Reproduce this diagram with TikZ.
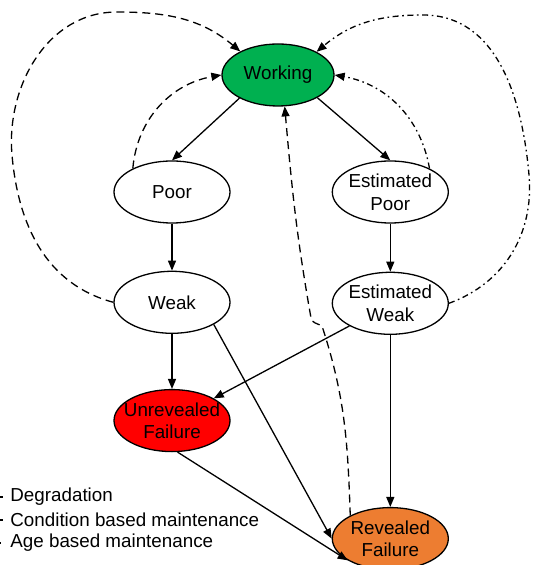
\documentclass[tikz,border=0pt]{standalone}
\usepackage{fontspec}
\setmainfont{Liberation Sans}
\usepackage{tikz}
\usetikzlibrary{positioning,shapes.geometric,arrows.meta}
\definecolor{workgreen}{HTML}{00B050}
\definecolor{failred}{HTML}{FF0000}
\definecolor{failorange}{HTML}{ED7D31}

\begin{document}
\begin{tikzpicture}[x=0.5pt, y=-0.5pt,
  font=\fontsize{9.4}{11.3}\selectfont,
  statenode/.style={ellipse, draw, line width=0.65pt, minimum width=58pt, minimum height=31pt, inner sep=0pt},
  degline/.style={line width=0.65pt},
  cbmline/.style={degline, dash pattern=on 4pt off 2.5pt},
  abmline/.style={degline, dash pattern=on 3pt off 1.8pt on 0.8pt off 1.8pt},
  tip/.style={-{Triangle[length=5pt,width=4pt]}},
  legtext/.style={anchor=west, inner sep=3.5pt}]
  \useasboundingbox (0,0) rectangle (534,565);
  \node[statenode, minimum width=56pt, fill=workgreen, label=center:Working] (working) at (278,75) {};
  \node[statenode, label=center:Poor] (poor) at (172,192) {};
  \node[statenode, right=50.5pt of poor, label={[align=center]center:Estimated\\Poor}] (estpoor) {};
  \node[statenode, below=23.5pt of poor, label=center:Weak] (weak) {};
  \node[statenode, below=24pt of estpoor, label={[align=center]center:Estimated\\Weak}] (estweak) {};
  \node[statenode, below=27.5pt of weak, fill=failred, label={[align=center]center:Unrevealed\\Failure}] (unrev) {};
  \node[statenode, below=86pt of estweak, fill=failorange, label={[align=center]center:Revealed\\Failure}] (revealed) {};

  \draw[degline, tip] (working.211) -- (poor.north);
  \draw[degline, tip] (working.330) -- (estpoor.north);
  \draw[degline, tip] (poor) -- (weak);
  \draw[degline, tip] (estpoor) -- (estweak);
  \draw[degline, tip] (weak) -- (unrev);
  \draw[degline, tip] (weak.-28) -- (revealed.west);
  \draw[degline, tip] (estweak.209) -- (unrev.28);
  \draw[degline, tip] (estweak) -- (revealed);
  \draw[degline, tip] (unrev.-80) -- (revealed.207);

  \draw[cbmline, tip] (weak.west) to[out=165,in=-85] (12,155) to[out=95,in=180] (117,12) to[out=0,in=140] (working.148);
  \draw[cbmline, tip] (poor.149) to[out=85,in=190] (working.west);
  \draw[cbmline, tip] (revealed.150) to[out=92,in=-72] (322,326) to[out=150,in=-80] (311,318) to[out=100,in=-85] (working.-78);
  \draw[abmline, tip] (estweak.east) to[out=20,in=-85] (529,175) to[out=95,in=0] (423,15) to[out=180,in=40] (working.31);
  \draw[abmline, tip] (estpoor.31) to[out=100,in=-10] (working.east);

  \node[legtext] (legdeg) at (3,497) {Degradation};
  \node[legtext] (legcbm) at (3,520) {Condition based maintenance};
  \node[legtext] (legabm) at (3,543) {Age based maintenance};
  \coordinate (legdegstart) at (-40,497);
  \coordinate (legcbmstart) at (-40,520);
  \coordinate (legabmstart) at (-40,543);
  \draw[degline] (legdegstart) -- (legdeg.west);
  \draw[cbmline] (legcbmstart) -- (legcbm.west);
  \draw[abmline] (legabmstart) -- (legabm.west);
\end{tikzpicture}
\end{document}
